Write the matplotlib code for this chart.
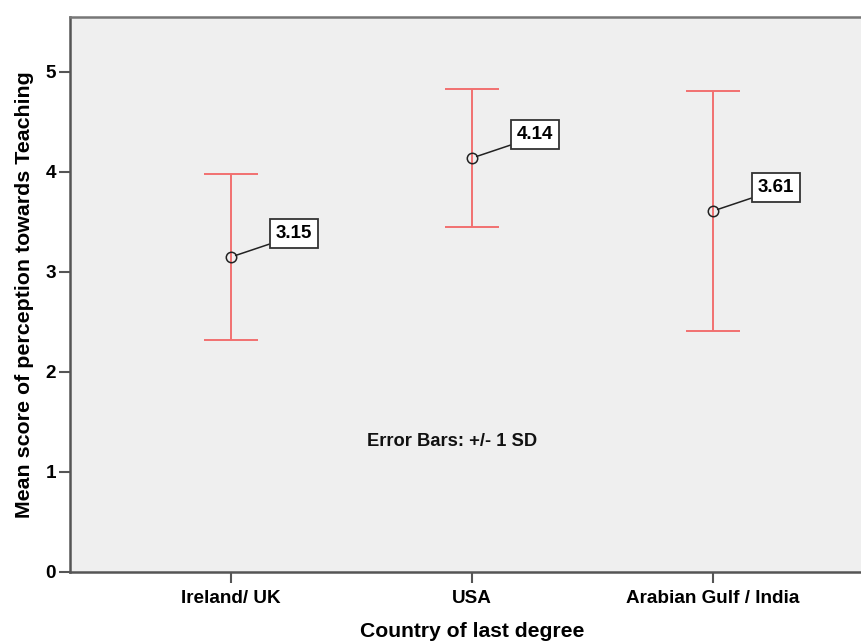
import matplotlib
matplotlib.use("Agg")
import matplotlib.pyplot as plt
import numpy as np

plt.rcParams['font.family'] = ['Liberation Sans', 'DejaVu Sans']
plt.rcParams['font.weight'] = 'bold'

categories = ["Ireland/ UK", "USA", "Arabian Gulf / India"]
means = [3.15, 4.14, 3.61]
sds = [0.83, 0.69, 1.20]
mean_labels = ["3.15", "4.14", "3.61"]

fig = plt.figure(figsize=(8.61, 6.42), dpi=100)
ax = fig.add_axes([70/861, 70/642, 1 - 70/861, (572-17)/642])
ax.set_facecolor('#efefef')

x = np.arange(len(categories))
ax.errorbar(x, means, yerr=sds, fmt='none', ecolor='#f27070', elinewidth=1.4,
            capsize=19.5, capthick=1.4)
ax.plot(x, means, linestyle='none', marker='o', markersize=7.5,
        markerfacecolor='none', markeredgecolor='#222222', markeredgewidth=1.1)

for xi, m, lab in zip(x, means, mean_labels):
    ax.annotate(lab, xy=(xi, m), xytext=(45.5, 17), textcoords='offset points',
                ha='center', va='center', fontsize=13.5, fontweight='bold',
                bbox=dict(boxstyle='square,pad=0.3', fc='white', ec='#333333', lw=1.3),
                arrowprops=dict(arrowstyle='-', color='#222222', lw=1.1,
                                shrinkA=0, shrinkB=3.5, relpos=(0, 0)))

ax.text(0.917, 1.31, "Error Bars: +/- 1 SD", ha='center', va='center',
        fontsize=13.2, fontweight='bold', color='#111111')

ax.set_xlim(-0.668, 2.614)
ax.set_ylim(0, 5.55)
ax.set_xticks(x)
ax.set_xticklabels(categories, fontsize=13.6, fontweight='bold')
ax.set_yticks([0, 1, 2, 3, 4, 5])
ax.set_yticklabels(['0', '1', '2', '3', '4', '5'], fontsize=13.6, fontweight='bold')
ax.tick_params(axis='both', direction='out', length=8, width=1.5, color='#555555')
ax.tick_params(axis='x', pad=5)
ax.tick_params(axis='y', pad=2)

for s in ['left', 'bottom', 'top']:
    ax.spines[s].set_color('#555555')
    ax.spines[s].set_linewidth(1.8)
ax.spines['top'].set_color('#777777')
ax.spines['right'].set_visible(False)

ax.set_xlabel("Country of last degree", fontsize=15.2, fontweight='bold')
ax.xaxis.set_label_coords((472 - 70) / 791, -0.108, transform=ax.transAxes)
ax.xaxis.label.set_va('center')
ax.set_ylabel("Mean score of perception towards Teaching", fontsize=15.4, fontweight='bold', labelpad=8)

fig.savefig("out.png", dpi=100)
